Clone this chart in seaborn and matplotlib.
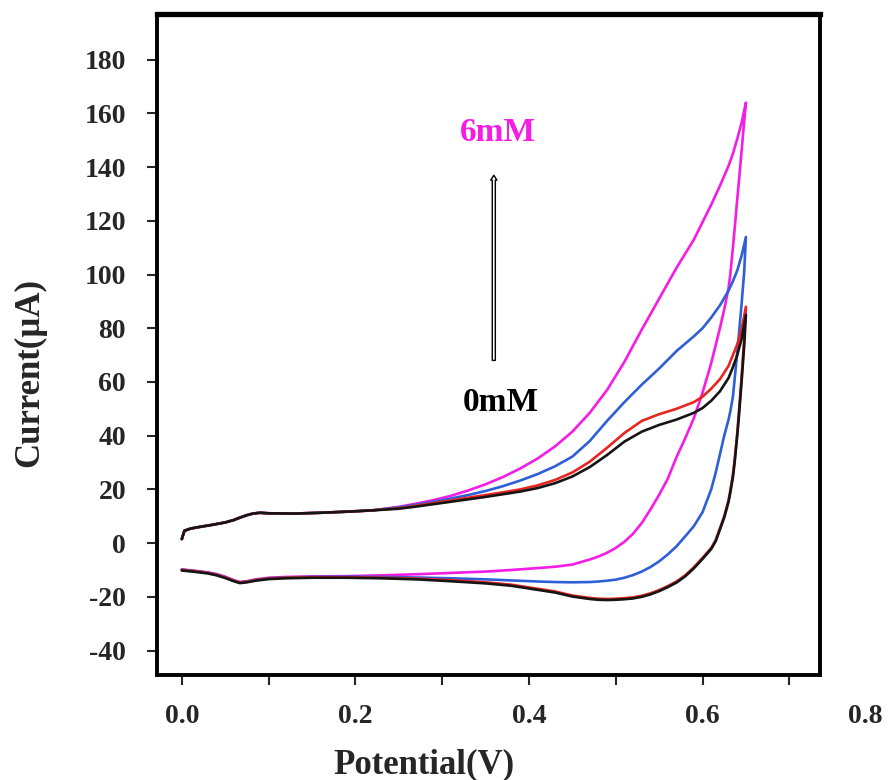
import numpy as np
import pandas as pd
import matplotlib
matplotlib.use("Agg")
import matplotlib.pyplot as plt
import seaborn as sns

# ---------------- data ----------------
curve_names = ["0mM", "2mM", "4mM", "6mM"]
curve_colors = ["#151515", "#E8251E", "#2F5FD6", "#F51CE6"]

# forward (anodic, upper) branch potentials, V
E_fwd = [0.000, 0.003, 0.01, 0.02, 0.035, 0.05, 0.06, 0.067, 0.075, 0.082,
         0.09, 0.1, 0.13, 0.16, 0.19, 0.22, 0.25, 0.27, 0.29, 0.31,
         0.33, 0.35, 0.37, 0.39, 0.41, 0.43, 0.45, 0.47, 0.49, 0.51,
         0.53, 0.55, 0.57, 0.59, 0.60, 0.61, 0.62, 0.63, 0.635, 0.64,
         0.645, 0.65]
# reverse (cathodic, lower) branch potentials, V
E_rev = [0.65, 0.648, 0.645, 0.642, 0.64, 0.637, 0.635, 0.632, 0.63, 0.625,
         0.62, 0.615, 0.61, 0.60, 0.59, 0.58, 0.57, 0.56, 0.55, 0.54,
         0.53, 0.52, 0.51, 0.50, 0.49, 0.48, 0.47, 0.45, 0.43, 0.41,
         0.38, 0.35, 0.31, 0.27, 0.23, 0.19, 0.15, 0.12, 0.1, 0.085,
         0.075, 0.067, 0.06, 0.05, 0.04, 0.03, 0.015, 0.0]

# currents, µA -- common start of the forward scan (0 - 0.22 V)
I_fwd_start = [1.5, 4.6, 5.4, 6.0, 6.8, 7.7, 8.6, 9.5, 10.4, 11.0,
               11.3, 11.1, 11.0, 11.3, 11.7, 12.2]

I_fwd_0mM = I_fwd_start + [12.8, 13.6, 14.5, 15.4, 16.3, 17.2, 18.2, 19.2, 20.5, 22.3,
                           24.8, 28.3, 32.8, 37.8, 41.5, 44.0, 46.0, 48.5, 50.3, 53.0,
                           56.5, 61.5, 65.5, 70.0, 76.0, 85.0]
I_rev_0mM = [85.0, 73.5, 60.0, 47.5, 40.0, 30.0, 24.5, 18.8, 15.4, 9.5,
             5.0, 0.6, -2.2, -5.9, -9.4, -12.4, -14.7, -16.4, -17.9, -19.1,
             -20.0, -20.6, -20.9, -21.1, -21.2, -21.1, -20.8, -19.9, -18.4, -17.4,
             -15.9, -15.0, -14.2, -13.5, -13.1, -12.9, -12.9, -13.1, -13.4, -14.0,
             -14.6, -14.9, -14.2, -13.0, -12.0, -11.3, -10.7, -10.2]

I_fwd_2mM = I_fwd_start + [13.0, 13.9, 14.9, 15.9, 16.9, 17.9, 18.9, 20.0, 21.5, 23.5,
                           26.3, 30.3, 35.5, 41.0, 45.5, 48.0, 50.0, 52.5, 54.5, 57.5,
                           61.0, 66.0, 70.0, 74.0, 79.5, 88.0]
I_rev_2mM = [88.0, 76.0, 62.0, 49.0, 41.0, 31.0, 25.5, 19.5, 16.0, 10.0,
             5.5, 1.0, -1.8, -5.5, -9.0, -12.0, -14.3, -16.0, -17.5, -18.7,
             -19.6, -20.2, -20.5, -20.7, -20.8, -20.7, -20.4, -19.5, -18.0, -17.0,
             -15.5, -14.6, -13.8, -13.2, -12.9, -12.7, -12.7, -12.9, -13.2, -13.8,
             -14.4, -14.7, -14.0, -12.8, -11.8, -11.1, -10.5, -10.0]

I_fwd_4mM = I_fwd_start + [13.3, 14.3, 15.4, 16.6, 17.9, 19.4, 21.2, 23.3, 25.7, 28.6,
                           32.2, 38.0, 45.5, 52.5, 59.0, 65.0, 71.5, 77.0, 80.0, 84.0,
                           88.5, 94.0, 97.5, 101.5, 107.0, 114.0]
I_rev_4mM = [114.0, 101.0, 89.0, 78.0, 71.0, 61.0, 54.5, 49.0, 46.0, 40.0,
             33.0, 26.0, 20.0, 11.5, 6.3, 2.5, -1.2, -4.2, -6.8, -8.9,
             -10.6, -11.9, -12.9, -13.6, -14.0, -14.3, -14.5, -14.6, -14.5, -14.3,
             -13.9, -13.5, -13.1, -12.8, -12.6, -12.5, -12.6, -12.8, -13.1, -13.7,
             -14.3, -14.6, -14.0, -12.7, -11.7, -11.0, -10.4, -9.9]

I_fwd_6mM = I_fwd_start + [13.5, 14.7, 16.0, 17.6, 19.6, 21.9, 24.6, 27.8, 31.5, 36.0,
                           41.5, 48.5, 57.0, 67.5, 79.5, 91.0, 102.5, 113.0, 119.5, 126.0,
                           133.0, 140.5, 145.0, 150.5, 156.5, 164.0]
I_rev_6mM = [164.0, 157.0, 146.0, 135.0, 128.0, 117.0, 110.0, 100.0, 95.0, 87.0,
             80.0, 73.5, 67.0, 56.0, 46.5, 39.0, 32.0, 24.0, 18.0, 12.5,
             7.5, 3.5, 0.5, -1.8, -3.6, -5.0, -6.1, -8.0, -8.8, -9.3,
             -10.0, -10.6, -11.1, -11.6, -12.0, -12.3, -12.4, -12.6, -12.9, -13.5,
             -14.2, -14.5, -13.8, -12.5, -11.5, -10.9, -10.3, -9.8]

I_fwd = [I_fwd_0mM, I_fwd_2mM, I_fwd_4mM, I_fwd_6mM]
I_rev = [I_rev_0mM, I_rev_2mM, I_rev_4mM, I_rev_6mM]

y_ticks = [-40, -20, 0, 20, 40, 60, 80, 100, 120, 140, 160, 180]
x_ticks = [0.0, 0.1, 0.2, 0.3, 0.4, 0.5, 0.6, 0.7]
x_ticklabels = ["0.0", "", "0.2", "", "0.4", "", "0.6", ""]
x_extra_label = ("0.8", 0.788)

# ---------------- plotting ----------------
sns.set_style("white")
plt.rcParams["font.family"] = ["Liberation Serif", "DejaVu Serif"]
plt.rcParams["font.weight"] = "bold"

TICK_FS = 20
LABEL_FS = 25
NOTE_FS = 24

fig = plt.figure(figsize=(8.9, 7.8), dpi=100)
ax = fig.add_axes([0.176, 0.135, 0.745, 0.847])

# draw order: 6mM first so black/red sit on top where curves overlap
for idx in [3, 2, 1, 0]:
    E_path = E_fwd + E_rev
    I_path = I_fwd[idx] + I_rev[idx]
    df = pd.DataFrame({"E": E_path, "I": I_path})
    sns.lineplot(data=df, x="E", y="I", sort=False, estimator=None,
                 color=curve_colors[idx], lw=1.9, ax=ax)

ax.set_xlim(-0.029, 0.735)
ax.set_ylim(-49, 197)

ax.set_yticks(y_ticks)
ax.set_yticklabels([str(v) for v in y_ticks])
ax.set_xticks(x_ticks)
ax.set_xticklabels(x_ticklabels)

ax.tick_params(axis="y", direction="out", length=7, width=1.5, pad=15,
               labelsize=TICK_FS, left=True)
ax.tick_params(axis="x", direction="out", length=7, width=1.5, pad=14,
               labelsize=TICK_FS, bottom=True)
for lab in ax.get_xticklabels() + ax.get_yticklabels():
    lab.set_fontweight("bold")

# extra 0.8 label sitting outside the frame, like the reference
ax.annotate(x_extra_label[0], xy=(x_extra_label[1], 0),
            xycoords=("data", "axes fraction"),
            xytext=(0, -21), textcoords="offset points", ha="center", va="top",
            fontsize=TICK_FS, fontweight="bold", annotation_clip=False)

for side in ["left", "right", "bottom"]:
    ax.spines[side].set_linewidth(2.8)
    ax.spines[side].set_color("black")
ax.spines["top"].set_linewidth(3.8)
ax.spines["top"].set_color("black")

ax.set_xlabel("Potential(V)", fontsize=LABEL_FS, fontweight="bold", va="center")
ax.xaxis.set_label_coords(0.403, -0.136)
ax.set_ylabel("Current(µA)", fontsize=LABEL_FS, fontweight="bold", va="center")
ax.yaxis.set_label_coords(-0.192, 0.458)

# annotations
ax.text(0.364, 153, "6mM", color="#F51CE6", fontsize=NOTE_FS, fontweight="bold",
        ha="center", va="center")
ax.text(0.368, 52.5, "0mM", color="black", fontsize=NOTE_FS, fontweight="bold",
        ha="center", va="center")
ax.annotate("", xy=(0.3595, 138), xytext=(0.3595, 67),
            arrowprops=dict(arrowstyle="simple,head_length=0.35,head_width=0.45,tail_width=0.22",
                            fc="white", ec="black", lw=1.0))

fig.savefig("out.png", dpi=100)
